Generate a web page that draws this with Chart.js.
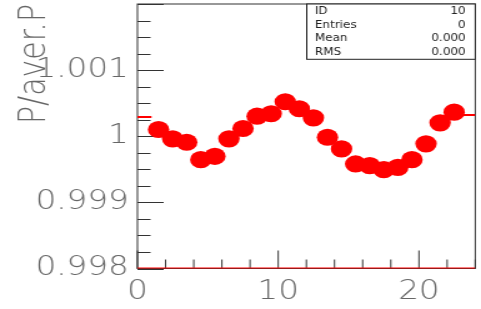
<!DOCTYPE html>
<html>
<head>
<meta charset="utf-8">
<script src="https://cdn.jsdelivr.net/npm/chart.js@4/dist/chart.umd.min.js"></script>
<style>
  html, body { margin: 0; padding: 0; background: #fff; overflow: hidden; }
  /* the reference is stretched horizontally, so the whole chart is drawn narrow and widened */
  #wrap { width: 385px; height: 309px; transform: scaleX(1.2494); transform-origin: 0 0; }
</style>
</head>
<body>
<div id="wrap"><canvas id="chart"></canvas></div>
<script>
// bin centres and P/aver.P values
const binCenters = [1.5, 2.5, 3.5, 4.5, 5.5, 6.5, 7.5, 8.5, 9.5, 10.5, 11.5,
                    12.5, 13.5, 14.5, 15.5, 16.5, 17.5, 18.5, 19.5, 20.5, 21.5, 22.5];
const ratioValues = [1.000102, 0.999961, 0.999909, 0.999646, 0.999697, 0.999961,
                     1.000117, 1.000303, 1.000340, 1.000522, 1.000416, 1.000279,
                     0.999985, 0.999809, 0.999581, 0.999555, 0.999495, 0.999530,
                     0.999646, 0.999885, 1.000203, 1.000364];

// short red histogram pieces at both ends and the red line along the bottom
const leftEdgeX = [0, 1];
const leftEdgeY = [1.00029, 1.00029];
const rightEdgeX = [23, 24];
const rightEdgeY = [1.00032, 1.00032];
const baseX = [0, 24];
const baseY = [0.998, 0.998];

// axis ranges and steps
const xMin = 0, xMax = 24, xStep = 2;
const yMin = 0.998, yMax = 1.002, yStep = 0.00025;

// stats box
const statNames = ['ID', 'Entries', 'Mean', 'RMS'];
const statValues = ['10', '0', '0.000', '0.000'];

function toPoints(xs, ys) {
  return xs.map(function(x, i) { return { x: x, y: ys[i] }; });
}

const labelFont = { family: 'DejaVu Sans', size: 26, weight: '200' };
const grey = '#666';

// inward ticks (ROOT style) and the frame
const frameTicks = {
  id: 'frameTicks',
  beforeDatasetsDraw: function(chart) {
    const ctx = chart.ctx;
    const a = chart.chartArea;
    ctx.save();
    ctx.strokeStyle = '#333';
    ctx.lineWidth = 1;
    ctx.strokeRect(a.left, a.top, a.right - a.left, a.bottom - a.top);

    const ys = chart.scales.y;
    ys.ticks.forEach(function(t) {
      const k = t.value * 1000;
      const major = Math.abs(k - Math.round(k)) < 1e-6;
      const py = Math.round(ys.getPixelForValue(t.value)) + 0.5;
      ctx.beginPath();
      ctx.moveTo(a.left, py);
      ctx.lineTo(a.left + (major ? 21 : 10.5), py);
      ctx.stroke();
    });

    const xs = chart.scales.x;
    xs.ticks.forEach(function(t) {
      const major = t.value % 10 === 0;
      const px = xs.getPixelForValue(t.value);
      ctx.beginPath();
      ctx.moveTo(px, a.bottom);
      ctx.lineTo(px, a.bottom - (major ? 18 : 9));
      ctx.stroke();
    });
    ctx.restore();
  }
};

const statsBox = {
  id: 'statsBox',
  afterDraw: function(chart) {
    const ctx = chart.ctx;
    const a = chart.chartArea;
    const left = 245.5, top = a.top, bottom = 59.3;
    ctx.save();
    ctx.fillStyle = '#fff';
    ctx.fillRect(left, top, a.right - left, bottom - top);
    ctx.strokeStyle = '#222';
    ctx.lineWidth = 1;
    ctx.strokeRect(left, top, a.right - left, bottom - top);
    ctx.font = '9.6px "DejaVu Sans"';
    ctx.fillStyle = '#222';
    ctx.textBaseline = 'middle';
    statNames.forEach(function(name, i) {
      const y = 11.5 + i * 13.6;
      ctx.textAlign = 'left';
      ctx.fillText(name, 252, y);
      ctx.textAlign = 'right';
      ctx.fillText(statValues[i], 372.7, y);
    });
    ctx.restore();
  }
};

new Chart(document.getElementById('chart'), {
  type: 'line',
  data: {
    datasets: [
      {
        label: 'baseline',
        data: toPoints(baseX, baseY),
        borderColor: '#ff0000',
        borderWidth: 2,
        pointRadius: 0
      },
      {
        label: 'left edge',
        data: toPoints(leftEdgeX, leftEdgeY),
        borderColor: '#ff0000',
        borderWidth: 2,
        pointRadius: 0
      },
      {
        label: 'right edge',
        data: toPoints(rightEdgeX, rightEdgeY),
        borderColor: '#ff0000',
        borderWidth: 2,
        pointRadius: 0
      },
      {
        label: 'P/aver.P',
        data: toPoints(binCenters, ratioValues),
        showLine: false,
        pointRadius: 8.6,
        pointBorderWidth: 0,
        pointBackgroundColor: '#ff0000',
        pointBorderColor: '#ff0000'
      }
    ]
  },
  options: {
    responsive: true,
    maintainAspectRatio: false,
    animation: false,
    events: [],
    layout: { autoPadding: false, padding: { top: 4, right: 4.6, left: 0, bottom: 0 } },
    plugins: {
      legend: { display: false },
      tooltip: { enabled: false }
    },
    scales: {
      x: {
        type: 'linear',
        min: xMin,
        max: xMax,
        afterFit: function(scale) {
          scale.height = 40.5;
          scale.paddingLeft = 0;
          scale.paddingRight = 0;
        },
        grid: { display: false, drawTicks: false },
        border: { display: false },
        ticks: {
          stepSize: xStep,
          autoSkip: false,
          maxRotation: 0,
          padding: 8.5,
          font: labelFont,
          color: grey,
          callback: function(v) { return v % 10 === 0 ? String(v) : ''; }
        }
      },
      y: {
        type: 'linear',
        min: yMin,
        max: yMax,
        afterFit: function(scale) {
          scale.width = 110;
          scale.paddingTop = 0;
          scale.paddingBottom = 0;
        },
        grid: { display: false, drawTicks: false },
        border: { display: false },
        title: {
          display: true,
          text: 'P/aver.P',
          align: 'end',
          font: { family: 'DejaVu Sans', size: 30, weight: '200' },
          color: grey,
          padding: { top: 10, bottom: 0 }
        },
        ticks: {
          stepSize: yStep,
          autoSkip: false,
          padding: 7,
          font: labelFont,
          color: grey,
          callback: function(v) {
            const k = v * 1000;
            if (Math.abs(k - Math.round(k)) < 1e-6 && Math.round(k) !== 1002) {
              return String(parseFloat(v.toFixed(3)));
            }
            return '';
          }
        }
      }
    }
  },
  plugins: [frameTicks, statsBox]
});
</script>
</body>
</html>
